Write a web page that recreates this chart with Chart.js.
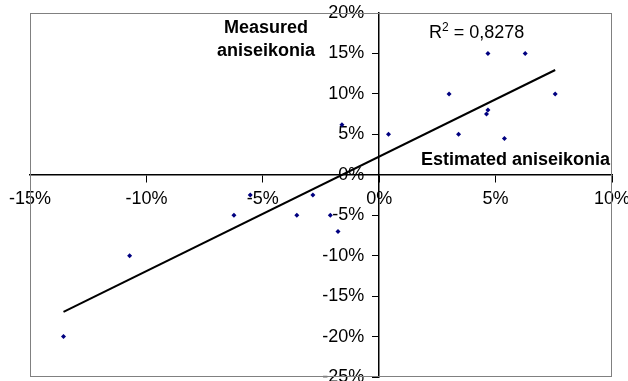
<!DOCTYPE html>
<html>
<head>
<meta charset="utf-8">
<script src="https://cdn.jsdelivr.net/npm/chart.js@4/dist/chart.umd.min.js"></script>
<style>
    html, body { margin: 0; padding: 0; background: #fff; }
    #wrap { width: 628px; height: 381px; }
</style>
</head>
<body>
<div id="wrap"><canvas id="aniseikoniaChart"></canvas></div>
<script>
// Datos (en %)
const estimated = [4.67, 6.27, 3.0, 7.56, 4.67, 4.61, 3.41, 5.38, 0.4, -1.6, -13.56, -10.72, -6.24, -5.54, -3.54, -2.85, -2.1, -1.77];
const measured = [15, 15, 10, 10, 8, 7.5, 5, 4.5, 5, 6.2, -20, -10, -5, -2.5, -5, -2.5, -5, -7];
const xTicks = [-15, -10, -5, 0, 5, 10];
const yTicks = [-25, -20, -15, -10, -5, 0, 5, 10, 15, 20];
const rSquaredText = '0,8278';

const FONT = '"Liberation Sans", Arial, sans-serif';

// Recta de tendencia (minimos cuadrados)
const n = estimated.length;
const mx = estimated.reduce((a, b) => a + b, 0) / n;
const my = measured.reduce((a, b) => a + b, 0) / n;
let sxy = 0, sxx = 0;
for (let i = 0; i < n; i++) {
    sxy += (estimated[i] - mx) * (measured[i] - my);
    sxx += (estimated[i] - mx) ** 2;
}
const slope = sxy / sxx;
const intercept = my - slope * mx;
const xMin = Math.min(...estimated);
const xMax = Math.max(...estimated);

const points = estimated.map((x, i) => ({ x: x, y: measured[i] }));

// las etiquetas pueden salirse del area (como en el original)
function noLabelPadding(s) {
    s.paddingTop = 0;
    s.paddingBottom = 0;
    s.paddingLeft = 0;
    s.paddingRight = 0;
}

// Marco gris y textos
const decoPlugin = {
    id: 'deco',
    beforeDatasetsDraw(chart) {
        const { ctx, chartArea: a } = chart;
        ctx.save();
        ctx.strokeStyle = '#808080';
        ctx.lineWidth = 1;
        ctx.strokeRect(a.left + 0.5, a.top + 0.5, a.right - a.left - 1, a.bottom - a.top - 1);
        ctx.restore();
    },
    afterDraw(chart) {
        const { ctx } = chart;
        ctx.save();
        ctx.fillStyle = '#000';
        ctx.textBaseline = 'middle';
        ctx.font = 'bold 18px ' + FONT;
        ctx.textAlign = 'center';
        ctx.fillText('Measured', 266, 28);
        ctx.fillText('aniseikonia', 266, 51);
        ctx.textAlign = 'right';
        ctx.fillText('Estimated aniseikonia', 610, 160);
        ctx.textAlign = 'left';
        ctx.font = '18px ' + FONT;
        ctx.fillText('R', 429, 33);
        const rw = ctx.measureText('R').width;
        ctx.font = '12px ' + FONT;
        ctx.fillText('2', 429 + rw, 28);
        const sw = ctx.measureText('2').width;
        ctx.font = '18px ' + FONT;
        ctx.fillText(' = ' + rSquaredText, 429 + rw + sw, 33);
        ctx.restore();
    }
};

new Chart(document.getElementById('aniseikoniaChart'), {
    type: 'scatter',
    data: {
        datasets: [{
            label: 'Medidas',
            data: points,
            pointStyle: 'rectRot',
            pointRadius: 2.5,
            backgroundColor: '#000080',
            borderColor: '#000080',
            borderWidth: 0
        }, {
            type: 'line',
            label: 'Tendencia',
            data: [{ x: xMin, y: slope * xMin + intercept }, { x: xMax, y: slope * xMax + intercept }],
            borderColor: '#000',
            borderWidth: 2,
            pointRadius: 0,
            fill: false
        }]
    },
    options: {
        responsive: true,
        maintainAspectRatio: false,
        animation: false,
        layout: { padding: { left: 30, top: 13, right: 16, bottom: 4 } },
        plugins: { legend: { display: false }, tooltip: { enabled: false } },
        scales: {
            x: {
                type: 'linear',
                min: -15,
                max: 10,
                position: { y: 0 },
                afterBuildTicks: s => { s.ticks = xTicks.map(v => ({ value: v })); },
                afterFit: noLabelPadding,
                grid: { drawOnChartArea: false, drawTicks: true, tickLength: 7, color: '#000' },
                border: { color: '#000', width: 1.5 },
                ticks: {
                    autoSkip: false,
                    maxRotation: 0,
                    padding: 6,
                    color: '#000',
                    font: { family: FONT, size: 18 },
                    callback: v => v + '%'
                }
            },
            y: {
                type: 'linear',
                min: -25,
                max: 20,
                position: { x: 0 },
                afterBuildTicks: s => { s.ticks = yTicks.map(v => ({ value: v })); },
                afterFit: noLabelPadding,
                grid: { drawOnChartArea: false, drawTicks: true, tickLength: 6, color: '#000' },
                border: { color: '#000', width: 1.5 },
                ticks: {
                    autoSkip: false,
                    color: '#000',
                    font: { family: FONT, size: 18 },
                    // espacios para separar la etiqueta del eje
                    callback: v => v + '%   '
                }
            }
        }
    },
    plugins: [decoPlugin]
});
</script>
</body>
</html>
